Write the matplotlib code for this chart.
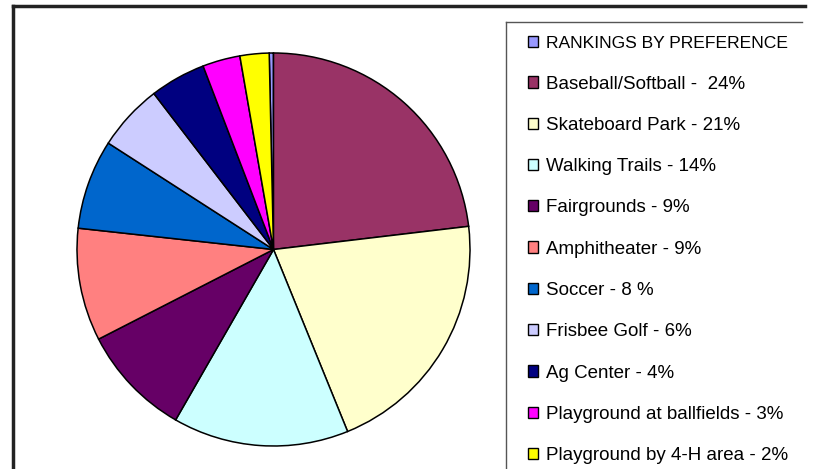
import matplotlib.pyplot as plt
from matplotlib.patches import Patch
from matplotlib.lines import Line2D

plt.rcParams['font.family'] = ['Liberation Sans', 'DejaVu Sans']

labels = ["RANKINGS BY PREFERENCE", "Baseball/Softball -  24%", "Skateboard Park - 21%",
          "Walking Trails - 14%", "Fairgrounds - 9%", "Amphitheater - 9%", "Soccer - 8 %",
          "Frisbee Golf - 6%", "Ag Center - 4%", "Playground at ballfields - 3%",
          "Playground by 4-H area - 2%"]
values = [0.35, 23.2, 20.8, 14.5, 9.2, 9.3, 7.4, 5.5, 4.6, 3.1, 2.4]
colors = ["#9999FF", "#993366", "#FFFFCC", "#CCFFFF", "#660066", "#FF8080",
          "#0066CC", "#CCCCFF", "#000080", "#FF00FF", "#FFFF00"]

fig = plt.figure(figsize=(8.15, 4.69), dpi=100)

# pie axes: centre ~ (273, 250) px, radius ~196 px
W, H = 815, 469
cx, cy, r = 273.5, 249.5, 196.5
ax = fig.add_axes([(cx - r) / W, 1 - (cy + r) / H, 2 * r / W, 2 * r / H])
sliver = values[0] / sum(values) * 360
ax.pie(values, colors=colors, startangle=90 + sliver, counterclock=False,
       wedgeprops=dict(edgecolor="black", linewidth=1.1))
ax.set_xlim(-1, 1)
ax.set_ylim(-1, 1)
ax.axis("off")

# outer frame (top and left, the rest is cropped off)
fig.add_artist(Line2D([13 / W, 13 / W], [0, 1 - 6 / H], transform=fig.transFigure,
                      color="#222222", linewidth=2.5))
fig.add_artist(Line2D([13 / W, 805 / W], [1 - 6 / H, 1 - 6 / H], transform=fig.transFigure,
                      color="#222222", linewidth=2.5))
# legend box
fig.add_artist(Line2D([506 / W, 506 / W], [0, 1 - 22 / H], transform=fig.transFigure,
                      color="#555555", linewidth=1))
fig.add_artist(Line2D([506 / W, 802 / W], [1 - 22 / H, 1 - 22 / H], transform=fig.transFigure,
                      color="#555555", linewidth=1))

handles = [Patch(facecolor=c, edgecolor="black", linewidth=1) for c in colors]
leg = fig.legend(handles, labels, loc="upper left", bbox_to_anchor=(528 / W, 1 - 36 / H),
                 frameon=False, fontsize=13.5, handlelength=0.55, handleheight=0.55,
                 handletextpad=0.41, labelspacing=1.295, borderaxespad=0, borderpad=0)
# the original title entry is set tighter
leg.get_texts()[0].set_fontsize(12.6)

fig.savefig("out.png", dpi=100)
